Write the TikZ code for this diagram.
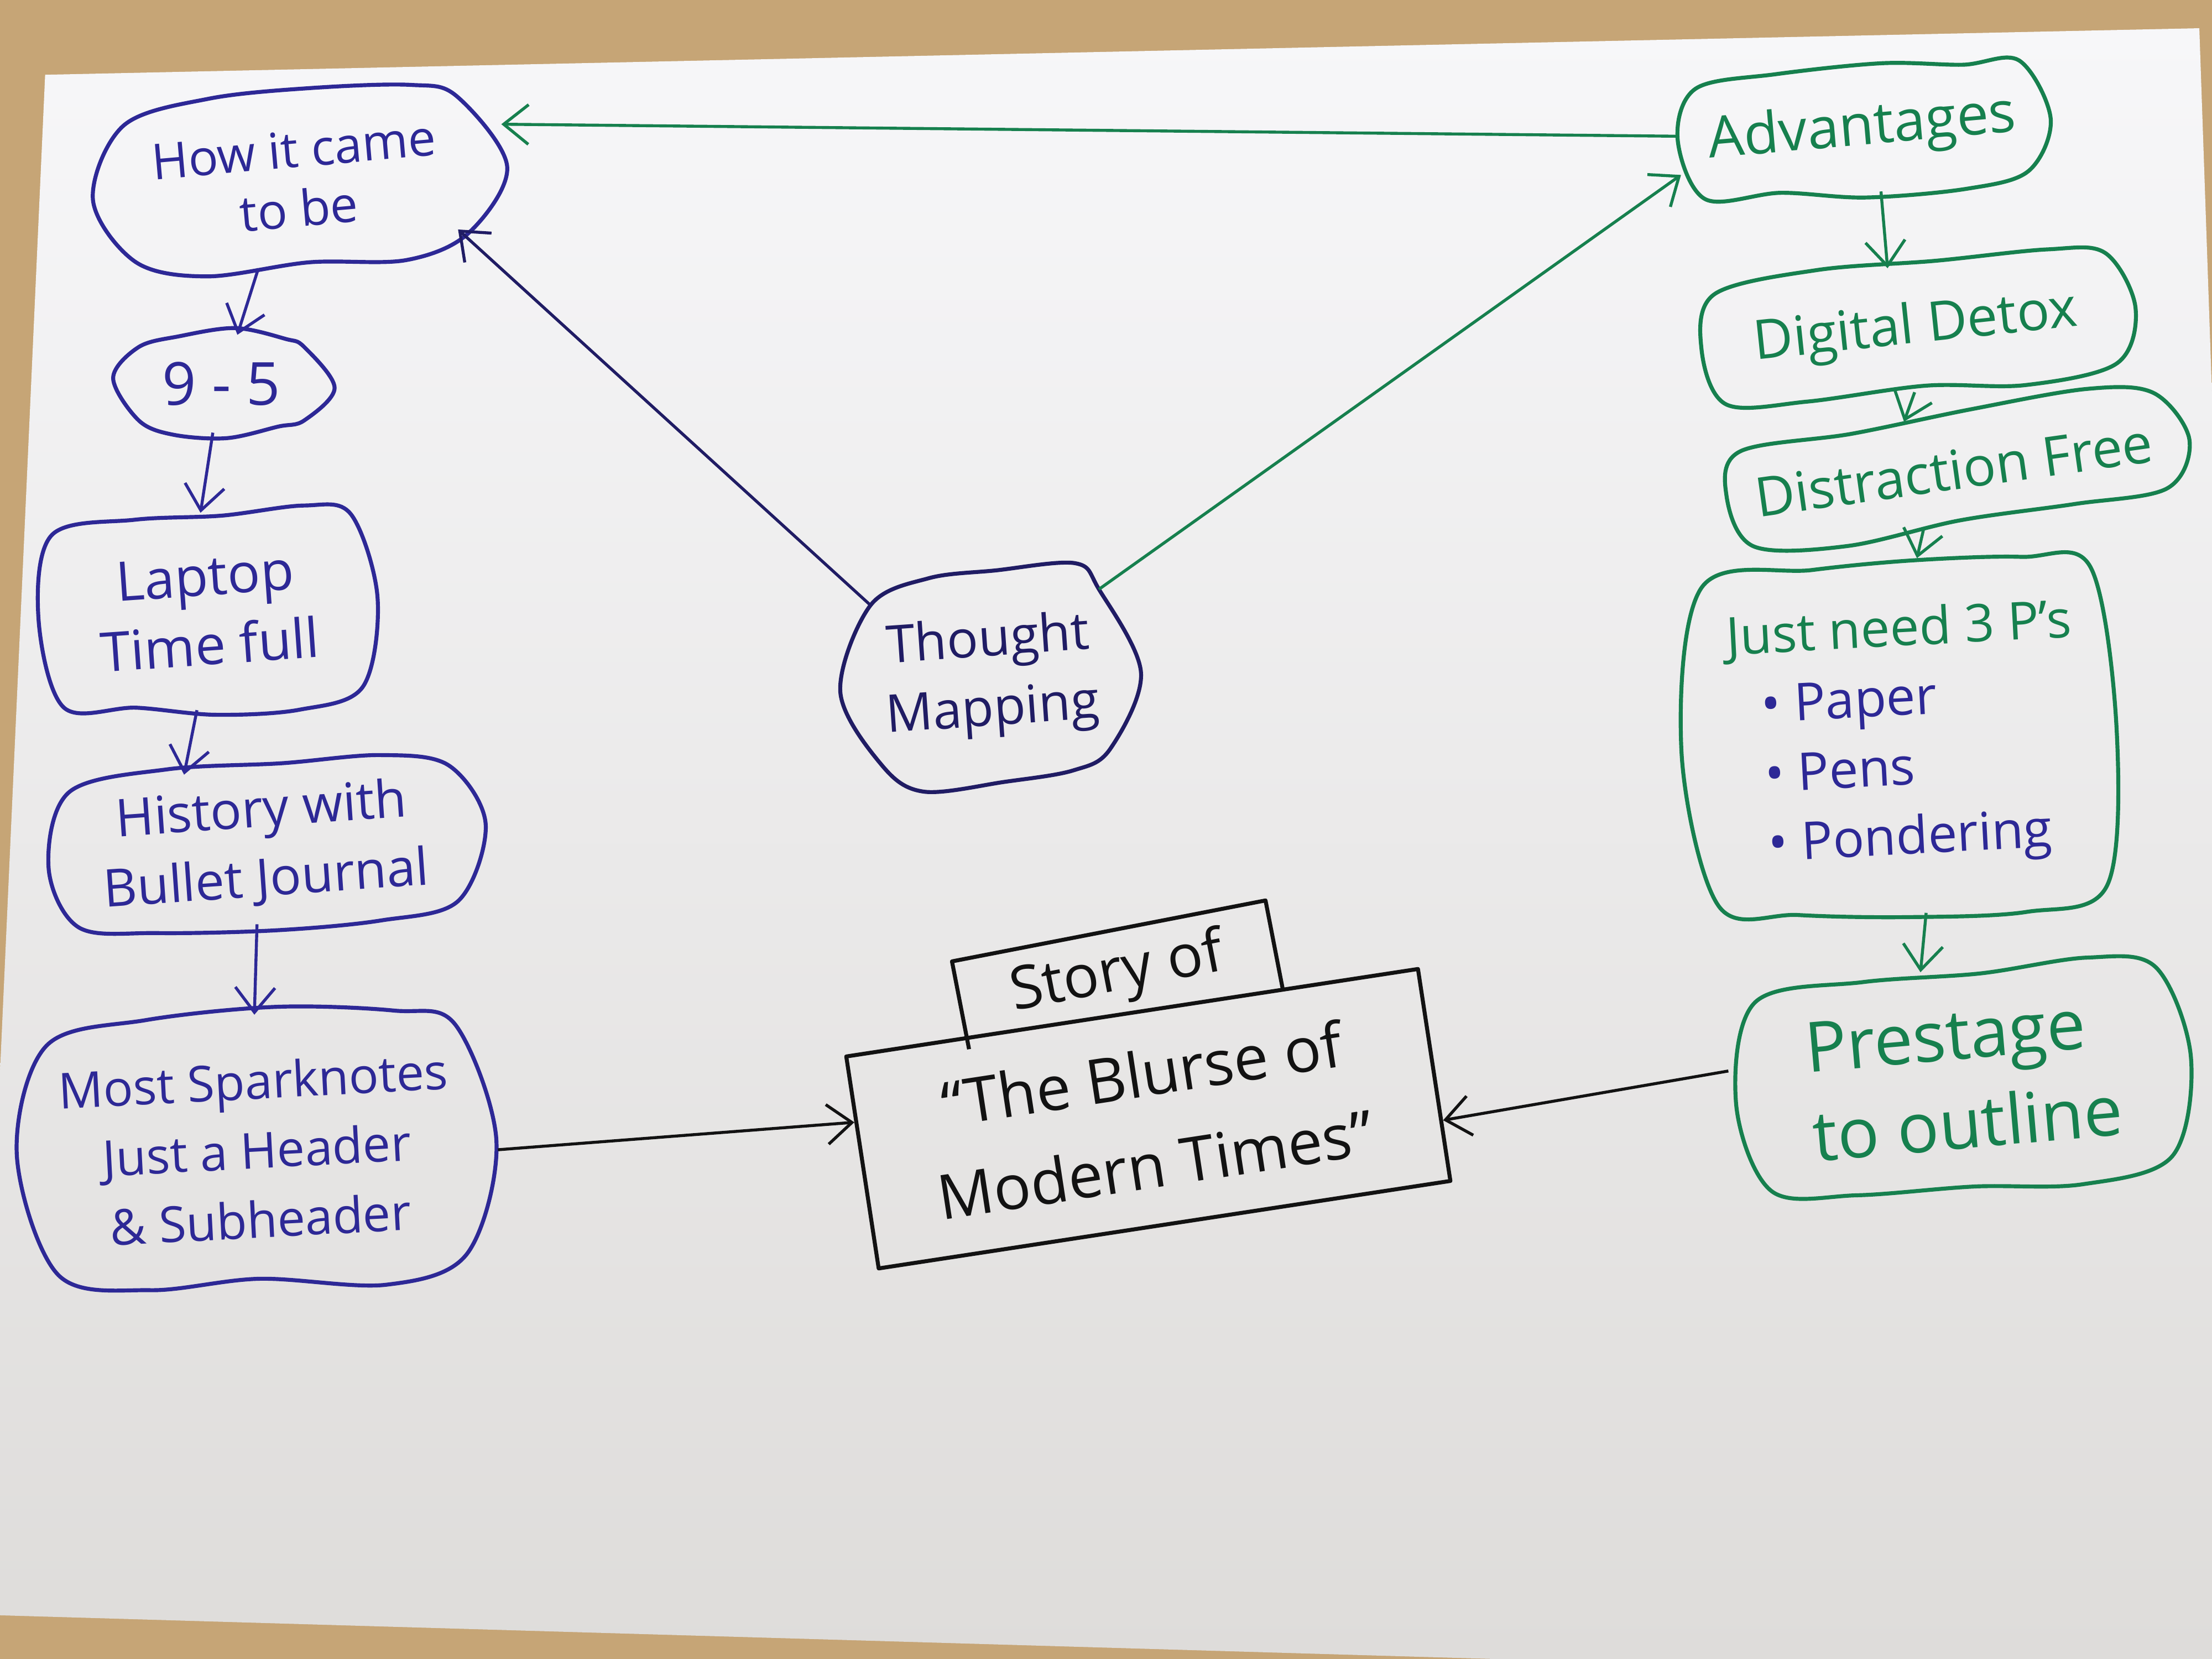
\documentclass[tikz,border=0pt]{standalone}
\usepackage{fontspec}
\setmainfont{Open Sans}
\usepackage{tikz}
\usetikzlibrary{arrows.meta,calc}

\definecolor{bluepen}{RGB}{45,40,150}
\definecolor{navypen}{RGB}{32,28,100}
\definecolor{greenpen}{RGB}{22,128,78}
\definecolor{blackpen}{RGB}{18,18,18}
\definecolor{wood}{RGB}{198,165,118}
\definecolor{paperhi}{RGB}{247,247,249}
\definecolor{paperlo}{RGB}{222,220,218}

% hand drawn outline round a node, #1 = how round the corners are
\newcommand{\inkbox}[2]{plot [smooth cycle, tension=0.55] coordinates {%
  ($(#2.north west)!#1!(#2.center)$)
  ($(#2.north west)!0.3!(#2.north east)+(rand*1.6pt,rand*1.6pt)$)
  ($(#2.north west)!0.55!(#2.north east)+(rand*1.6pt,rand*1.6pt)$)
  ($(#2.north west)!0.8!(#2.north east)+(rand*1.6pt,rand*1.6pt)$)
  ($(#2.north east)!#1!(#2.center)$)
  ($(#2.east)+(rand*1.6pt,rand*1.6pt)$)
  ($(#2.south east)!#1!(#2.center)$)
  ($(#2.south west)!0.75!(#2.south east)+(rand*1.6pt,rand*1.6pt)$)
  ($(#2.south west)!0.5!(#2.south east)+(rand*1.6pt,rand*1.6pt)$)
  ($(#2.south west)!0.25!(#2.south east)+(rand*1.6pt,rand*1.6pt)$)
  ($(#2.south west)!#1!(#2.center)$)
  ($(#2.west)+(rand*1.6pt,rand*1.6pt)$)}}

\tikzset{
  boxblob/.style={rectangle, align=center, inner sep=0pt},
  ink/.style={line width=0.8pt, line join=round},
  pen/.style={line width=0.6pt, -{Straight Barb[length=5pt,width=8pt]}},
}

\begin{document}
\begin{tikzpicture}[x=0.1mm,y=0.1mm,yscale=-1,xscale=1]
\pgfmathsetseed{11}
\useasboundingbox (0,0) rectangle (1568,1176);
% desk and sheet
\fill [wood] (0,0) rectangle (1568,1176);
\shade [top color=paperhi, bottom color=paperlo] (32,53) -- (1559,20) -- (1568,280) -- (1568,1176) -- (1060,1176) -- (0,1145) -- (0,760) -- cycle;

% left column, blue pen
\node [boxblob, bluepen, minimum width=2.95cm, minimum height=1.2cm, rotate=5, font=\fontsize{10}{12}\selectfont] (howcame) at (210,127) {How it came\\to be};
\node [boxblob, bluepen, minimum width=1.55cm, minimum height=0.68cm, font=\fontsize{12}{13}\selectfont] (ninefive) at (157,272) {9 - 5};
\node [boxblob, bluepen, minimum width=2.4cm, minimum height=1.38cm, rotate=4, font=\fontsize{11}{14}\selectfont] (laptop) at (147,433) {Laptop\\Time full};
\node [boxblob, bluepen, minimum width=3.05cm, minimum height=1.08cm, rotate=4, font=\fontsize{10.5}{14}\selectfont] (history) at (187,600) {History with\\Bullet Journal};
\node [boxblob, bluepen, minimum width=3.4cm, minimum height=1.9cm, rotate=3, font=\fontsize{10}{14}\selectfont] (sparknotes) at (182,815) {Most Sparknotes\\Just a Header\\\& Subheader};

% centre
\node [boxblob, navypen, minimum width=2.15cm, minimum height=1.5cm, rotate=4, font=\fontsize{10.5}{14}\selectfont] (thought) at (702,480) {Thought\\Mapping};
\node [blackpen, minimum width=2.25cm, minimum height=0.62cm, inner sep=0pt, rotate=11, font=\fontsize{12}{13}\selectfont] (storytab) at (792,691) {Story of};
\draw [ink, blackpen] (storytab.south west) -- (storytab.north west) -- (storytab.north east) -- (storytab.south east);
\node [draw, ink, blackpen, align=center, minimum width=4.1cm, minimum height=1.52cm, rotate=8.7, font=\fontsize{12.5}{18.5}\selectfont] (blurse) at (814,793) {“The Blurse of\\Modern Times”};

% right column, green pen
\node [boxblob, greenpen, minimum width=2.6cm, minimum height=0.88cm, rotate=5, font=\fontsize{11.5}{13}\selectfont] (advantages) at (1320,92) {Advantages};
\node [boxblob, greenpen, minimum width=3.15cm, minimum height=0.88cm, rotate=6, font=\fontsize{11}{13}\selectfont] (detox) at (1358,233) {Digital Detox};
\node [boxblob, greenpen, minimum width=3.35cm, minimum height=0.76cm, rotate=8, font=\fontsize{11}{13}\selectfont] (distraction) at (1385,333) {Distraction Free};
\node [boxblob, greenpen, minimum width=3.05cm, minimum height=2.5cm, rotate=3, align=left, font=\fontsize{10.5}{14}\selectfont] (threeps) at (1350,522) {Just need 3 P’s\\\hspace*{0.6em}{\color{bluepen}• Paper}\\\hspace*{0.6em}{\color{bluepen}• Pens}\\\hspace*{0.6em}{\color{bluepen}• Pondering}};
\node [boxblob, greenpen, minimum width=3.3cm, minimum height=1.55cm, rotate=5, align=left, font=\fontsize{14}{18}\selectfont] (prestage) at (1392,765) {Prestage\\to outline};

% outlines
\draw [ink, bluepen] \inkbox{0.2}{howcame};
\draw [ink, bluepen] \inkbox{0.25}{ninefive};
\draw [ink, bluepen] \inkbox{0.12}{laptop};
\draw [ink, bluepen] \inkbox{0.12}{history};
\draw [ink, bluepen] \inkbox{0.15}{sparknotes};
\draw [ink, navypen] \inkbox{0.25}{thought};
\draw [ink, greenpen] \inkbox{0.12}{advantages};
\draw [ink, greenpen] \inkbox{0.12}{detox};
\draw [ink, greenpen] \inkbox{0.12}{distraction};
\draw [ink, greenpen] \inkbox{0.1}{threeps};
\draw [ink, greenpen] \inkbox{0.14}{prestage};

% arrows
\draw [pen, bluepen] (howcame.-118) -- (ninefive.72);
\draw [pen, bluepen] (ninefive.-100) -- (laptop.90);
\draw [pen, bluepen] (laptop.-100) -- (history.134);
\draw [pen, bluepen] (history.-99) -- (sparknotes.88);
\draw [pen, blackpen] (sparknotes.-3) -- (blurse.172);
\draw [pen, navypen] ($(thought.north west)!0.25!(thought.center)$) -- ($(howcame.south east)!0.25!(howcame.center)$);
\draw [pen, greenpen] ($(thought.north east)!0.25!(thought.center)$) -- (advantages.189);
\draw [pen, greenpen] (advantages.177) -- (howcame.10);
\draw [pen, greenpen] (advantages.-78) -- (detox.109);
\draw [pen, greenpen] (detox.-97) -- (distraction.128);
\draw [pen, greenpen] (distraction.-125) -- (threeps.83);
\draw [pen, greenpen] (threeps.-86) -- (prestage.107);
\draw [pen, blackpen] (prestage.173) -- (blurse.-9);
\end{tikzpicture}
\end{document}
